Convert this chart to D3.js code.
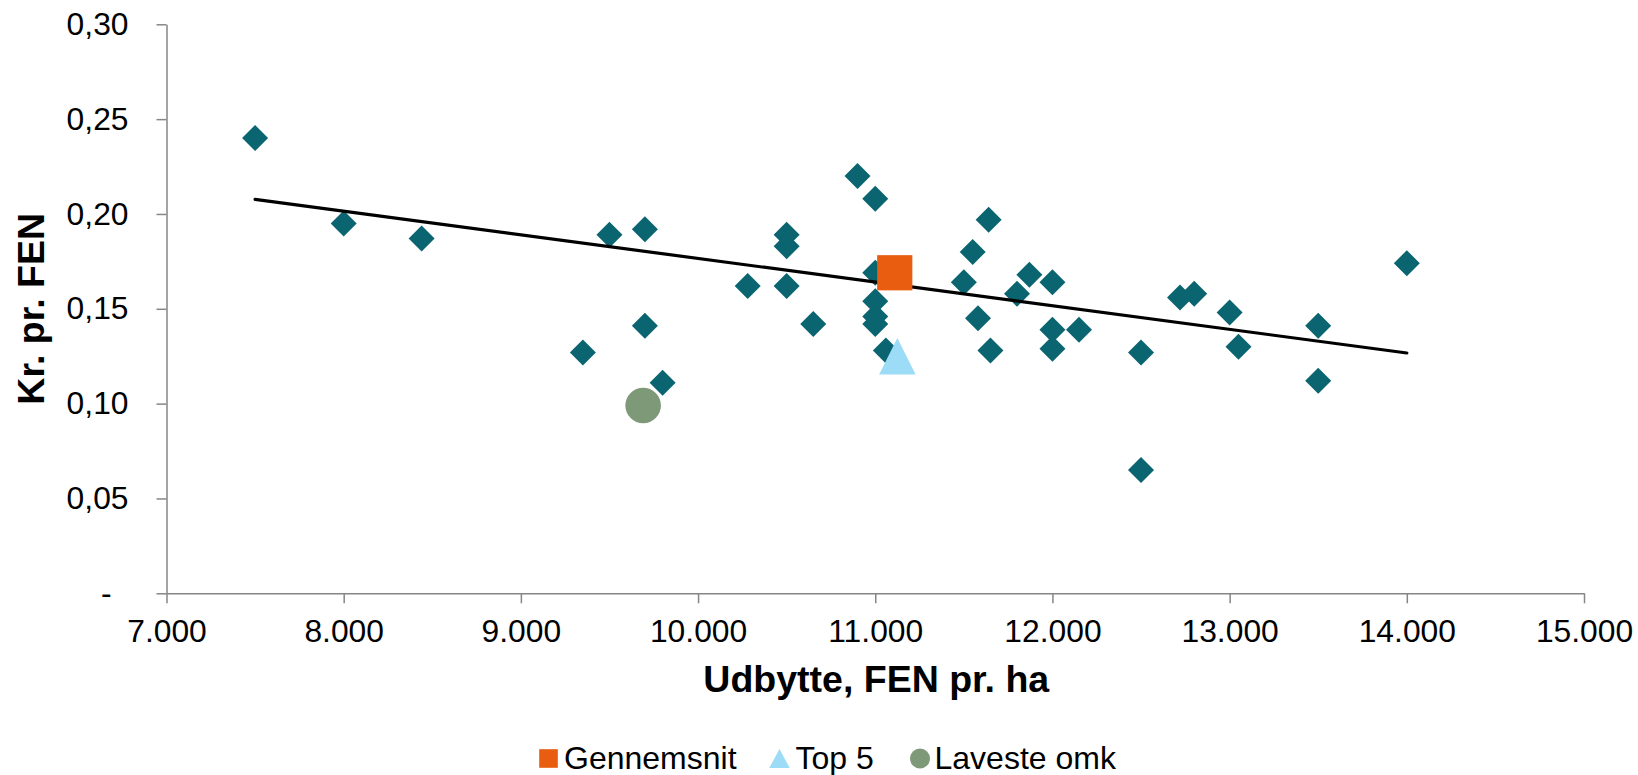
<!DOCTYPE html>
<html>
<head>
<meta charset="utf-8">
<script src="https://cdn.jsdelivr.net/npm/d3@7"></script>
<style>
  html, body { margin: 0; padding: 0; background: #ffffff; }
  svg { display: block; font-family: "Liberation Sans", Arial, sans-serif; }
</style>
</head>
<body>
<svg id="chart" width="1638" height="775"></svg>
<script>
// ---- Data ----
const farmYield = [7500, 8000, 8440, 9350, 9500, 9700, 9700, 9800, 10280, 10500, 10500, 10500, 10650, 10900, 11000, 11000, 11000, 11000, 11000, 11060, 11500, 11550, 11580, 11640, 11650, 11800, 11870, 12000, 12000, 12000, 12150, 12500, 12500, 12720, 12800, 13000, 13050, 13500, 13500, 14000];
const farmCost  = [0.240, 0.195, 0.187, 0.127, 0.189, 0.192, 0.141, 0.111, 0.162, 0.189, 0.183, 0.162, 0.142, 0.220, 0.208, 0.169, 0.154, 0.146, 0.142, 0.128, 0.164, 0.180, 0.145, 0.197, 0.128, 0.158, 0.168, 0.164, 0.139, 0.129, 0.139, 0.127, 0.065, 0.156, 0.158, 0.148, 0.130, 0.141, 0.112, 0.174];

const trendX = [7500, 14000];
const trendY = [0.2077, 0.1267];

const avgPoint    = [11110, 0.169];   // Gennemsnit
const top5Point   = [11125, 0.125];   // Top 5
const lowestPoint = [9690, 0.099];    // Laveste omk

const xTicks = [7000, 8000, 9000, 10000, 11000, 12000, 13000, 14000, 15000];
const yTicks = [0, 0.05, 0.10, 0.15, 0.20, 0.25, 0.30];
const legendLabels = ["Gennemsnit", "Top 5", "Laveste omk"];
const xTitle = "Udbytte, FEN pr. ha";
const yTitle = "Kr. pr. FEN";

// ---- Setup ----
const svg = d3.select("#chart");
const x = d3.scaleLinear().domain([7000, 15000]).range([166.5, 1584]);
const y = d3.scaleLinear().domain([0, 0.30]).range([593.3, 24.3]);

const loc = d3.formatLocale({decimal: ",", thousands: ".", grouping: [3], currency: ["", ""]});
const fmtX = loc.format(",.0f");
const fmtY = loc.format(".2f");

const axisColor = "#868686";
const fontSize = 31.8;

// Y axis
const yAxis = svg.append("g")
  .attr("transform", `translate(${x(7000)},0)`)
  .call(d3.axisLeft(y).tickValues(yTicks).tickSize(10).tickSizeOuter(0).tickPadding(28)
    .tickFormat(d => d === 0 ? "-" : fmtY(d)));
yAxis.select(".domain").attr("stroke", axisColor).attr("stroke-width", 1.5);
yAxis.selectAll(".tick line").attr("stroke", axisColor).attr("stroke-width", 1.5);
yAxis.selectAll(".tick text").attr("fill", "#000").style("font-size", fontSize + "px")
  .attr("dx", d => d === 0 ? -17 : 0);

// X axis
const xAxis = svg.append("g")
  .attr("transform", `translate(0,${y(0)})`)
  .call(d3.axisBottom(x).tickValues(xTicks).tickSize(10).tickSizeOuter(0).tickPadding(16)
    .tickFormat(d => fmtX(d)));
xAxis.select(".domain").attr("stroke", axisColor).attr("stroke-width", 1.5);
xAxis.selectAll(".tick line").attr("stroke", axisColor).attr("stroke-width", 1.5);
xAxis.selectAll(".tick text").attr("fill", "#000").style("font-size", fontSize + "px");

// Axis titles
svg.append("text")
  .attr("x", (x(7000) + x(15000)) / 2 + 1).attr("y", 691.5)
  .attr("text-anchor", "middle")
  .style("font-size", "37.5px").style("font-weight", "bold")
  .text(xTitle);

svg.append("text")
  .attr("transform", `translate(44,${(y(0) + y(0.30)) / 2}) rotate(-90)`)
  .attr("text-anchor", "middle")
  .style("font-size", "37.5px").style("font-weight", "bold")
  .text(yTitle);

// Diamonds
const farms = farmYield.map((v, i) => ({xv: v, yv: farmCost[i]}));
const diamond = d3.symbol().type(d3.symbolSquare).size(338)();
svg.append("g").selectAll("path").data(farms).join("path")
  .attr("d", diamond)
  .attr("transform", d => `translate(${x(d.xv)},${y(d.yv)}) rotate(45)`)
  .attr("fill", "#0b6570");

// Trend line
const trend = trendX.map((v, i) => [v, trendY[i]]);
svg.append("path")
  .datum(trend)
  .attr("d", d3.line().x(d => x(d[0])).y(d => y(d[1])))
  .attr("fill", "none").attr("stroke", "#000").attr("stroke-width", 3.2)
  .attr("stroke-linecap", "round");

// Special markers
const triPath = (w, h) => `M0,${-h / 2}L${w / 2},${h / 2}L${-w / 2},${h / 2}Z`;

svg.append("rect")
  .attr("x", x(avgPoint[0]) - 17.6).attr("y", y(avgPoint[1]) - 17.6)
  .attr("width", 35.2).attr("height", 35.2)
  .attr("fill", "#e85d0f");

svg.append("path")
  .attr("d", triPath(36.5, 36.5))
  .attr("transform", `translate(${x(top5Point[0])},${y(top5Point[1])})`)
  .attr("fill", "#9ddcf7");

svg.append("circle")
  .attr("cx", x(lowestPoint[0])).attr("cy", y(lowestPoint[1]))
  .attr("r", 17.8)
  .attr("fill", "#7e9977");

// Legend
const legendY = 758.5;
const legend = svg.append("g");
const items = [
  {label: legendLabels[0], mx: 548.5, tx: 564, type: "square", color: "#e85d0f"},
  {label: legendLabels[1], mx: 779.5, tx: 795.5, type: "triangle", color: "#9ddcf7"},
  {label: legendLabels[2], mx: 920, tx: 934.5, type: "circle", color: "#7e9977"}
];
items.forEach(it => {
  if (it.type === "square") {
    legend.append("rect").attr("x", it.mx - 9.3).attr("y", legendY - 9.3)
      .attr("width", 18.6).attr("height", 18.6).attr("fill", it.color);
  } else if (it.type === "triangle") {
    legend.append("path").attr("d", triPath(20.5, 19))
      .attr("transform", `translate(${it.mx},${legendY})`).attr("fill", it.color);
  } else {
    legend.append("circle").attr("cx", it.mx).attr("cy", legendY).attr("r", 10)
      .attr("fill", it.color);
  }
  legend.append("text").attr("x", it.tx).attr("y", 769)
    .style("font-size", "32px").text(it.label);
});
</script>
</body>
</html>
